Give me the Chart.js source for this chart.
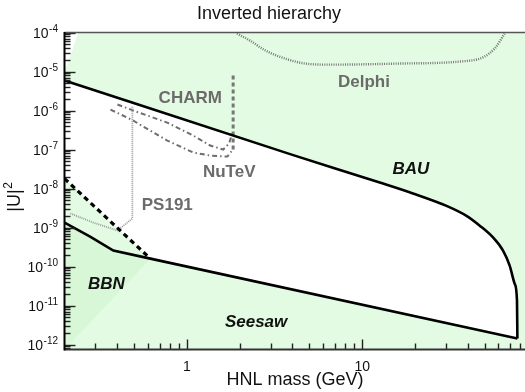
<!DOCTYPE html>
<html>
<head>
<meta charset="utf-8">
<script src="https://cdn.jsdelivr.net/npm/chart.js@4.4.1/dist/chart.umd.min.js"></script>
<style>
  body { margin: 0; background: #fff; }
  #wrap { width: 525px; height: 392px; }
</style>
</head>
<body>
<div id="wrap"><canvas id="chart" width="525" height="392"></canvas></div>
<script>
// axis ranges
const massRange = [0.2, 85];
const u2Range = [7.5e-13, 1e-4];

// tick values / labels
const xMajorTicks = [1, 10];
const xMajorLabels = ['1', '10'];
const yMajorTicks = [1e-4, 1e-5, 1e-6, 1e-7, 1e-8, 1e-9, 1e-10, 1e-11, 1e-12];
const yMajorExps = ['-4', '-5', '-6', '-7', '-8', '-9', '-10', '-11', '-12'];

// BAU (upper edge of allowed region)
const bauMass = [0.2, 4, 12.6, 19.5, 30.3, 39.4, 46.9, 55.8, 63.7, 69.5, 74.3, 76.5, 76.9];
const bauU2 = [5.9e-6, 7.3e-8, 1.43e-8, 7.5e-9, 3.6e-9, 2.0e-9, 1.12e-9, 5.6e-10, 2.57e-10, 1.06e-10, 3.6e-11, 1.34e-11, 1.43e-12];

// seesaw / BBN lower edge
const seesawMass = [0.2, 0.28, 0.38, 0.618, 76.9];
const seesawU2 = [1.34e-9, 5.9e-10, 2.57e-10, 1.6e-10, 1.43e-12];

// dashed BBN line
const bbnMass = [0.2, 0.618];
const bbnU2 = [1.8e-8, 1.6e-10];

// BBN shading edge
const bbnEdgeMass = [0.2, 0.618];
const bbnEdgeU2 = [7.5e-13, 1.6e-10];

// excluded corner top-left
const cornerMass = [0.2, 0.24];
const cornerU2 = [9.4e-6, 1e-4];

// experiments
const ps191Mass = [0.216, 0.292, 0.401, 0.488, 0.488];
const ps191U2 = [2.3e-9, 1.34e-9, 8.4e-10, 1.7e-9, 1.27e-6];

const charmMass = [0.401, 0.494, 0.772, 1.086, 1.358, 1.61, 1.74, 1.835];
const charmU2 = [1.43e-6, 1.0e-6, 4.9e-7, 2.29e-7, 1.27e-7, 1.0e-7, 1.43e-7, 3.07e-7];

const nutevMass = [0.366, 0.494, 0.772, 1.086, 1.358, 1.70, 1.81];
const nutevU2 = [1.06e-6, 5.5e-7, 1.7e-7, 8.4e-8, 7.0e-8, 6.6e-8, 9.4e-8];

const edgeMass = [1.835, 1.835];
const edgeU2 = [7.9e-6, 9.4e-8];

const delphiMass = [1.93, 2.29, 2.79, 3.63, 4.72, 6.55, 16.4, 36.1, 48.8, 57.1, 65.1];
const delphiU2 = [9.4e-5, 6.2e-5, 3.5e-5, 2.15e-5, 1.6e-5, 1.5e-5, 1.6e-5, 1.8e-5, 2.3e-5, 3.9e-5, 9.4e-5];

// text labels placed in data coordinates
const labelNames = ['CHARM', 'NuTeV', 'PS191', 'Delphi', 'BAU', 'BBN', 'Seesaw'];
const labelMass = [1.044, 1.742, 0.772, 10.24, 18.97, 0.347, 2.48];
const labelU2 = [2.09e-6, 2.65e-8, 3.78e-9, 5.38e-6, 3.16e-8, 3.56e-11, 3.78e-12];

const GREEN = '#e2fbe2';
const DARK = '#d7f7d7';
const FONT = '"Liberation Sans", Arial, sans-serif';

const pts = (xs, ys) => xs.map((x, i) => ({ x: x, y: ys[i] }));

const lowerMass = bbnMass.slice(0, 1).concat(seesawMass.slice(3));
const lowerU2 = bbnU2.slice(0, 1).concat(seesawU2.slice(3));

function area(xs, ys, color, fill, order, smooth) {
  return { data: pts(xs, ys), fill: fill, backgroundColor: color, borderColor: 'rgba(0,0,0,0)',
    borderWidth: 0, pointRadius: 0, order: order,
    cubicInterpolationMode: smooth ? 'monotone' : 'default' };
}
function curve(xs, ys, color, width, dash, order, smooth) {
  return { data: pts(xs, ys), fill: false, borderColor: color, borderWidth: width,
    borderDash: dash, borderCapStyle: 'butt', pointRadius: 0, order: order,
    cubicInterpolationMode: smooth ? 'monotone' : 'default' };
}

const backdrop = {
  id: 'backdrop',
  beforeDraw(chart) {
    const { ctx, chartArea: a } = chart;
    ctx.save();
    ctx.fillStyle = GREEN;
    ctx.fillRect(a.left, a.top, a.right - a.left, a.bottom - a.top);
    ctx.restore();
  }
};

const frame = {
  id: 'frame',
  afterDraw(chart) {
    const { ctx, chartArea: a, scales } = chart;
    const xs = scales.x, ys = scales.y;
    ctx.save();

    // ticks on y
    ctx.strokeStyle = '#222';
    ctx.lineWidth = 1.4;
    for (let e = -13; e <= -5; e++) {
      for (let k = 2; k <= 9; k++) {
        const v = k * Math.pow(10, e);
        if (v < u2Range[0] || v > u2Range[1]) continue;
        const py = Math.round(ys.getPixelForValue(v)) + 0.5;
        ctx.beginPath(); ctx.moveTo(a.left, py); ctx.lineTo(a.left + 6, py); ctx.stroke();
      }
    }
    yMajorTicks.forEach(v => {
      const py = Math.round(ys.getPixelForValue(v)) + 0.5;
      ctx.beginPath(); ctx.moveTo(a.left, py); ctx.lineTo(a.left + 11, py); ctx.stroke();
    });

    // ticks on x
    for (let e = -1; e <= 1; e++) {
      for (let k = 2; k <= 9; k++) {
        const v = k * Math.pow(10, e);
        if (v <= massRange[0] || v > massRange[1]) continue;
        const px = Math.round(xs.getPixelForValue(v)) + 0.5;
        ctx.beginPath(); ctx.moveTo(px, a.bottom); ctx.lineTo(px, a.bottom - 6); ctx.stroke();
      }
    }
    xMajorTicks.forEach(v => {
      const px = Math.round(xs.getPixelForValue(v)) + 0.5;
      ctx.beginPath(); ctx.moveTo(px, a.bottom); ctx.lineTo(px, a.bottom - 10); ctx.stroke();
    });

    // axis lines
    ctx.strokeStyle = '#555';
    ctx.lineWidth = 1.5;
    ctx.beginPath(); ctx.moveTo(a.left, a.top); ctx.lineTo(a.right, a.top); ctx.stroke();
    ctx.strokeStyle = '#333';
    ctx.lineWidth = 2;
    ctx.beginPath(); ctx.moveTo(a.left, a.bottom); ctx.lineTo(a.right, a.bottom); ctx.stroke();
    ctx.strokeStyle = '#000';
    ctx.beginPath(); ctx.moveTo(a.left, a.top - 0.5); ctx.lineTo(a.left, a.bottom + 1); ctx.stroke();

    // y tick labels
    ctx.fillStyle = '#111';
    ctx.textBaseline = 'middle';
    yMajorTicks.forEach((v, i) => {
      const py = ys.getPixelForValue(v);
      ctx.font = '10px ' + FONT;
      const ew = ctx.measureText(yMajorExps[i]).width;
      ctx.textAlign = 'right';
      ctx.fillText(yMajorExps[i], 58, py - 3);
      ctx.font = '14px ' + FONT;
      ctx.fillText('10', 58 - ew - 0.5, py + 2);
    });

    // x tick labels
    ctx.font = '14px ' + FONT;
    ctx.textAlign = 'center';
    xMajorTicks.forEach((v, i) => {
      ctx.fillText(xMajorLabels[i], xs.getPixelForValue(v), 367);
    });

    // titles
    ctx.font = '18px ' + FONT;
    ctx.fillText('Inverted hierarchy', 269, 14);
    ctx.fillText('HNL mass (GeV)', 295, 380);

    ctx.save();
    ctx.translate(20, 197);
    ctx.rotate(-Math.PI / 2);
    ctx.textBaseline = 'alphabetic';
    ctx.textAlign = 'left';
    ctx.font = '18px ' + FONT;
    const uw = ctx.measureText('|U|').width;
    const total = uw + 7;
    ctx.fillText('|U|', -total / 2, 0);
    ctx.font = '12px ' + FONT;
    ctx.fillText('2', -total / 2 + uw + 0.5, -8);
    ctx.restore();

    // region / experiment labels
    labelNames.forEach((name, i) => {
      const black = name === 'BAU' || name === 'BBN' || name === 'Seesaw';
      ctx.font = (black ? 'italic bold 17px ' : 'bold 17px ') + FONT;
      ctx.fillStyle = black ? '#111' : '#6b6b6b';
      ctx.textAlign = 'center';
      ctx.textBaseline = 'middle';
      ctx.fillText(name, xs.getPixelForValue(labelMass[i]), ys.getPixelForValue(labelU2[i]));
    });

    ctx.restore();
  }
};

new Chart(document.getElementById('chart'), {
  type: 'line',
  data: {
    datasets: [
      area(bauMass, bauU2, '#ffffff', 'start', 20, true),
      area(lowerMass, lowerU2, GREEN, 'start', 19),
      area(seesawMass.slice(0, 4), seesawU2.slice(0, 4), DARK, 'start', 18),
      area(bbnEdgeMass, bbnEdgeU2, GREEN, 'start', 17),
      area(cornerMass, cornerU2, '#ffffff', 'end', 16),
      curve(delphiMass, delphiU2, '#777', 2.4, [1, 1.3], 5, true),
      curve(ps191Mass, ps191U2, '#9a9a9a', 1.8, [1, 1], 4),
      curve(charmMass, charmU2, '#6e6e6e', 2, [5, 3, 1.5, 3], 4),
      curve(nutevMass, nutevU2, '#6e6e6e', 2, [5, 3, 1.5, 3], 4),
      curve(edgeMass, edgeU2, '#777', 3, [4, 3], 4),
      curve(bbnMass, bbnU2, '#000', 3.2, [5, 4], 2),
      curve(seesawMass, seesawU2, '#000', 2.6, [], 1),
      curve(bauMass, bauU2, '#000', 2.6, [], 1, true)
    ]
  },
  options: {
    responsive: false,
    animation: false,
    layout: { padding: { left: 64.5, top: 32.5, right: 0, bottom: 42.5 } },
    scales: {
      x: { type: 'logarithmic', min: massRange[0], max: massRange[1], display: false },
      y: { type: 'logarithmic', min: u2Range[0], max: u2Range[1], display: false }
    },
    elements: { line: { tension: 0 } },
    plugins: { legend: { display: false }, tooltip: { enabled: false } }
  },
  plugins: [backdrop, frame]
});
</script>
</body>
</html>
